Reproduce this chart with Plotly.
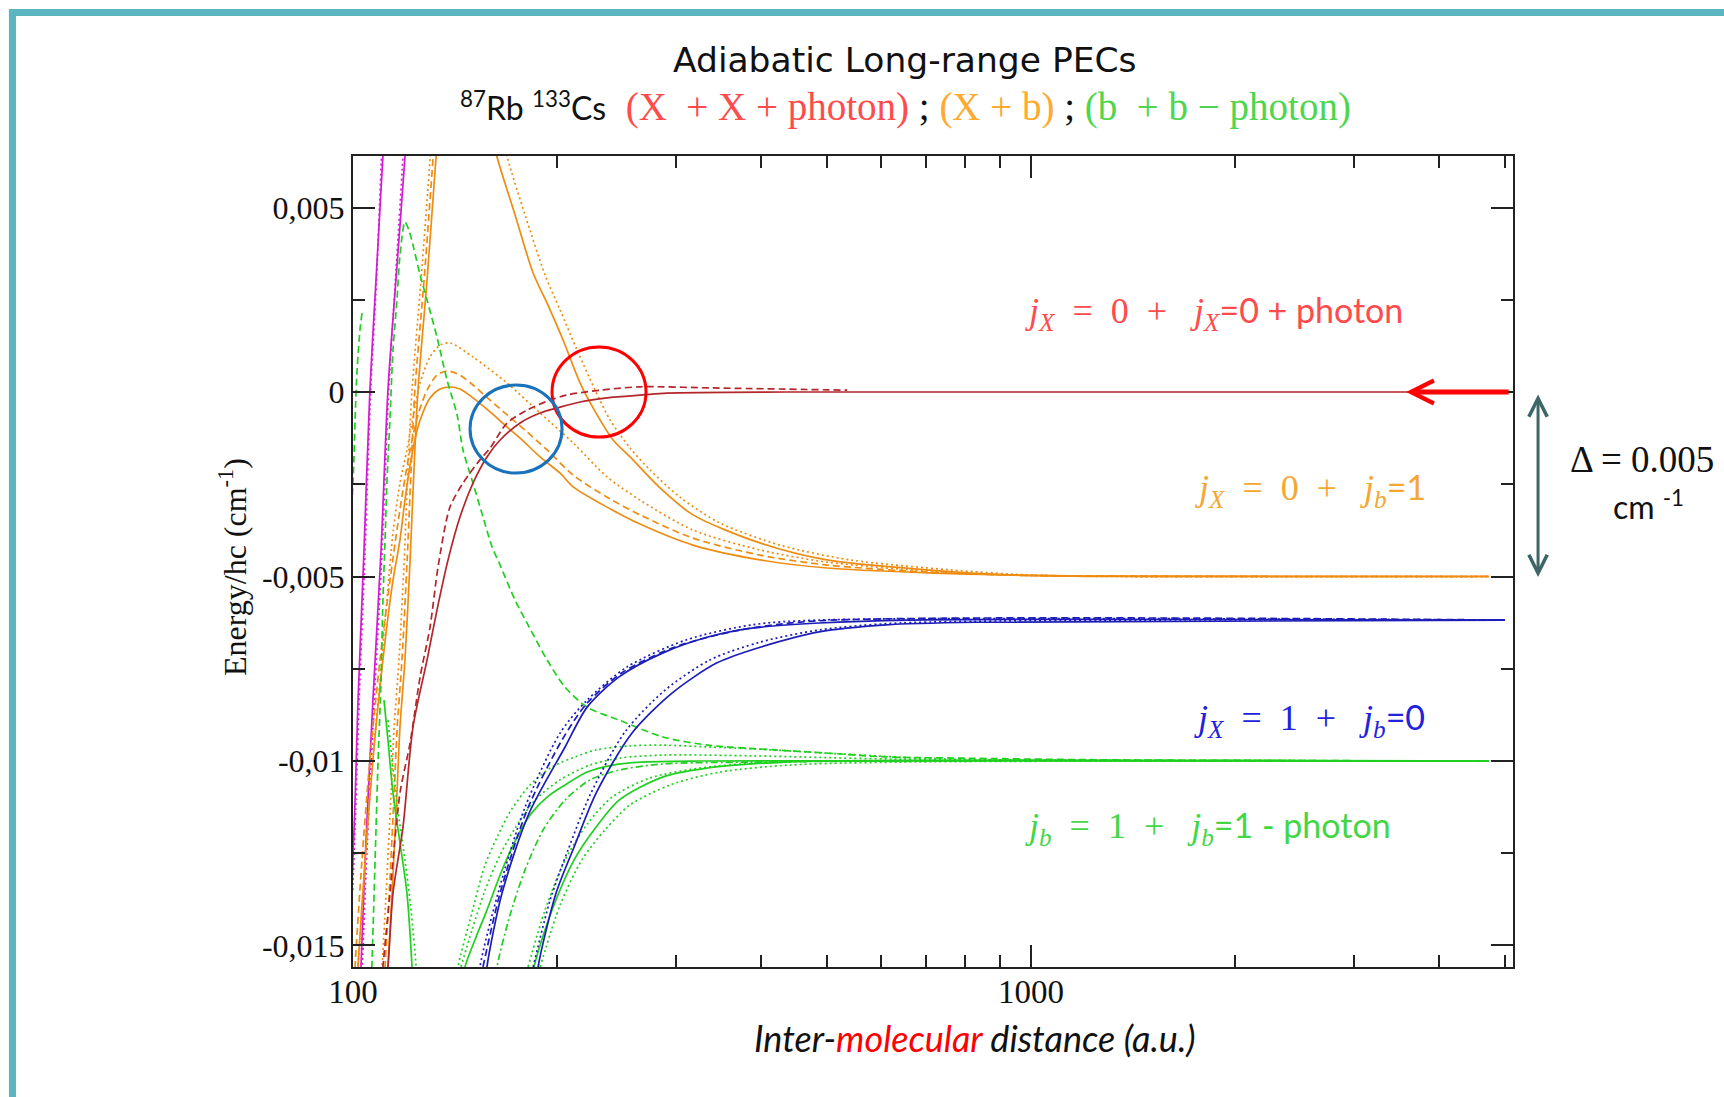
import plotly.graph_objects as go

# ---------------- data (x: a.u., y: cm^-1) ----------------
x_tick_vals = [100, 1000]
x_tick_text = ["100", "1000"]
x_minor_vals = [200, 300, 400, 500, 600, 700, 800, 900, 2000, 3000, 4000, 5000]
y_tick_vals = [0.005, 0.0, -0.005, -0.01, -0.015]
y_tick_text = ["0,005", "0", "-0,005", "-0,01", "-0,015"]
y_minor_vals = [0.0025, -0.0025, -0.0075, -0.0125]

# magenta
mag1_x = [99.6, 100.7, 101.7, 103.8, 105.9, 108.1, 110.7, 111.5]
mag1_y = [-0.0135, -0.0111, -0.0084, -0.0043, 0.00005, 0.0030, 0.0064, 0.0074]
mag1d_x = [99.9, 101.0, 102.1, 104.2, 106.2, 108.3, 110.2, 111.0]
mag1d_y = [-0.0135, -0.0111, -0.0084, -0.0043, 0.00005, 0.0030, 0.0064, 0.0074]
mag2_x = [102.4, 102.75, 104.2, 107.0, 110.0, 112.6, 115.7, 119.3, 120.1]
mag2_y = [-0.0162, -0.01558, -0.01268, -0.00835, -0.00428, 0.00005, 0.00304, 0.00637, 0.0074]
mag2d_x = [102.8, 103.2, 104.7, 107.5, 110.4, 112.9, 115.5, 118.5, 119.3]
mag2d_y = [-0.0162, -0.01558, -0.01268, -0.00835, -0.00428, 0.00005, 0.00304, 0.00637, 0.0074]

# orange (X + b)
ostp_x = [112.2, 112.6, 114.2, 116.1, 117.3, 119.3, 121.4, 123.0, 124.7, 128.6, 132.6, 133.9]
ostp_y = [-0.0162, -0.01558, -0.01358, -0.01087, -0.00908, -0.00726, -0.00455, -0.00211, 0.00005, 0.00304, 0.00637, 0.0074]
ostpa_x = [111.1, 111.5, 113.1, 115.0, 116.2, 118.1, 120.2, 121.8, 123.4, 127.3, 131.3, 132.6]
ostpa_y = [-0.0162, -0.01558, -0.01358, -0.01087, -0.00908, -0.00726, -0.00455, -0.00211, 0.00005, 0.00304, 0.00637, 0.0074]
ostpd_x = [110.0, 110.4, 111.9, 113.8, 115.0, 116.9, 119.0, 120.5, 122.2, 126.0, 130.0, 131.2]
ostpd_y = [-0.0162, -0.01558, -0.01358, -0.01087, -0.00908, -0.00726, -0.00455, -0.00211, 0.00005, 0.00304, 0.00637, 0.0074]

ohs_x = [101.4, 101.7, 104.2, 107.0, 110.7, 114.55, 117.3, 119.3, 121.4, 123.4, 125.6, 129.9, 134.4, 139.0, 143.8,
         150.3, 159.3, 168.8, 176.4, 188.8, 202.1, 211.2, 237.0, 265.1, 317.3, 398.3, 500.3, 702.6, 931.0, 1264, 4737]
ohs_y = [-0.0162, -0.01558, -0.01268, -0.00997, -0.00726, -0.0051, -0.00401, -0.00293, -0.00198, -0.0013, -0.00076,
         -0.00016, 0.00008, 0.000136, 0.00008, -0.00016, -0.00054, -0.00095, -0.00125, -0.00176, -0.0022, -0.00257,
         -0.00312, -0.00358, -0.00415, -0.00455, -0.00477, -0.0049, -0.00496, -0.00499, -0.005]
ohd_x = [100.4, 100.7, 103.1, 105.9, 109.6, 113.4, 116.1, 118.5, 121.4, 124.7, 128.6, 133.0, 137.6, 143.8, 150.3,
         159.3, 168.8, 180.6, 193.3, 211.2, 237.0, 265.1, 317.3, 398.3, 500.3, 702.6, 931.0, 1264, 4737]
ohd_y = [-0.0162, -0.01558, -0.01268, -0.00997, -0.00726, -0.0051, -0.00374, -0.00266, -0.00157, -0.00062, 0.00005,
         0.00046, 0.00057, 0.00046, 0.00019, -0.00022, -0.00062, -0.00108, -0.00157, -0.00225, -0.00285, -0.00333,
         -0.00396, -0.00442, -0.00469, -0.00488, -0.00496, -0.00499, -0.005]
ohp_x = [101.4, 101.7, 102.75, 105.9, 109.6, 112.2, 114.55, 117.3, 120.1, 122.6, 125.6, 129.9, 134.4, 139.0, 150.3,
         168.8, 188.8, 211.2, 237.0, 265.1, 317.3, 398.3, 500.3, 702.6, 931.0, 1264, 4737]
ohp_y = [-0.0162, -0.01558, -0.0145, -0.01087, -0.0078, -0.00564, -0.00382, -0.00247, -0.00157, -0.00068, 0.00024,
         0.00095, 0.00127, 0.00133, 0.00095, 0.00024, -0.00057, -0.00138, -0.0023, -0.00293, -0.00374, -0.00428,
         -0.00461, -0.00485, -0.00496, -0.00499, -0.005]
ous_x = [159.3, 163.1, 173.4, 184.4, 193.3, 204.1, 216.3, 226.0, 241.9, 256.3, 283.7, 317.3, 398.3, 500.3, 702.6,
         931.0, 1264, 4737]
ous_y = [0.00724, 0.00637, 0.0048, 0.00322, 0.00241, 0.00141, 0.00024, -0.00043, -0.0013, -0.00176, -0.0026,
         -0.00333, -0.00409, -0.00455, -0.00482, -0.00496, -0.005, -0.005]
oud_x = [164.8, 168.8, 179.4, 192.0, 202.1, 214.0, 227.6, 239.5, 256.3, 274.2, 303.6, 347.8, 426.4, 541.0, 759.6,
         996.6, 1353, 4737]
oud_y = [0.00724, 0.00637, 0.0048, 0.00317, 0.00222, 0.00114, 0.00005, -0.00076, -0.00152, -0.00211, -0.00285,
         -0.00355, -0.00415, -0.00455, -0.00482, -0.00496, -0.005, -0.005]

# red (X + X + photon)
rs_x = [111.5, 112.6, 114.55, 118.5, 122.6, 128.6, 133.0, 138.1, 143.8, 150.3, 157.6, 164.8, 176.4, 188.8, 202.1,
        216.3, 237.0, 267.7, 290.5, 436.6, 5089]
rs_y = [-0.0162, -0.01558, -0.01358, -0.01179, -0.00908, -0.00726, -0.00591, -0.00455, -0.00339, -0.00247, -0.00176,
        -0.0013, -0.00084, -0.00057, -0.00041, -0.00027, -0.00016, -0.00008, -0.00003, 0.0, 0.0]
rd_x = [110.0, 110.7, 113.4, 117.3, 121.4, 125.6, 129.9, 133.5, 139.0, 145.3, 153.9, 159.3, 168.8, 180.6, 195.3,
        206.9, 231.5, 265.1, 339.6, 535.5]
rd_y = [-0.0162, -0.01558, -0.01358, -0.01087, -0.00951, -0.00772, -0.00637, -0.00474, -0.00312, -0.00247, -0.00184,
        -0.00152, -0.00084, -0.00049, -0.00022, -0.00008, 0.00005, 0.00014, 0.00011, 0.00005]

# green (b + b - photon)
gdm_x = [106.3, 106.7, 107.8, 108.9, 110.0, 110.7, 111.5, 112.2, 113.4, 114.55, 116.1, 117.3, 119.3, 120.9, 122.6,
         125.6, 128.6, 133.0, 137.6, 142.4, 145.3, 150.3, 155.5, 160.4, 164.8, 173.4, 181.9, 193.3, 205.5, 221.5,
         246.9, 286.6, 333.9, 419.2, 495.2, 611.2, 767.4, 1308, 4737]
gdm_y = [-0.0162, -0.01539, -0.01268, -0.00997, -0.0078, -0.00564, -0.00401, -0.00247, -0.00068, 0.00114, 0.00249,
         0.00371, 0.00461, 0.00439, 0.00398, 0.00317, 0.00249, 0.00149, 0.00033, -0.00062, -0.00157, -0.00247,
         -0.00339, -0.0042, -0.00469, -0.00564, -0.00637, -0.00726, -0.008, -0.00854, -0.00889, -0.00935, -0.00957,
         -0.0097, -0.00978, -0.00989, -0.00992, -0.00997, -0.01]
gdl_x = [103.1, 102.4, 101.4, 100.7, 100.3, 99.7]
gdl_y = [0.00214, 0.00168, 0.0006, -0.00076, -0.00184, -0.00293]
gss_x = [111.1, 112.6, 114.55, 117.3, 120.1, 122.2, 122.6]
gss_y = [-0.00835, -0.00943, -0.01087, -0.01222, -0.01358, -0.01558, -0.0162]
gsd_x = [112.6, 114.2, 116.5, 119.3, 121.8, 123.9, 124.3]
gsd_y = [-0.00889, -0.00997, -0.01133, -0.01268, -0.01404, -0.01558, -0.0162]
gla_x = [145.3, 146.3, 151.3, 157.6, 164.8, 172.3, 182.5, 193.3, 205.5, 221.5, 241.9, 266.1, 325.0, 641.0, 4737]
gla_y = [-0.0162, -0.01558, -0.01485, -0.01404, -0.01309, -0.01228, -0.01146, -0.01098, -0.01065, -0.0103, -0.01011,
         -0.01003, -0.01, -0.01, -0.01]
gl1_x = [141.9, 142.85, 148.8, 156.6, 163.65, 171.1, 182.5, 196.6, 212.6, 228.35, 256.3, 286.6, 333.9, 387.7, 526.4,
         759.6, 4737]
gl1_y = [-0.0162, -0.01558, -0.01431, -0.01282, -0.01201, -0.01133, -0.01065, -0.01016, -0.00989, -0.0097, -0.00959,
         -0.00957, -0.00962, -0.00967, -0.00981, -0.00995, -0.01]
gl2_x = [144.3, 149.8, 156.6, 164.8, 173.4, 185.6, 202.1, 223.7, 247.7, 286.6, 387.7, 641.0, 4737]
gl2_y = [-0.01558, -0.01458, -0.0135, -0.01255, -0.01182, -0.01106, -0.01051, -0.01011, -0.00992, -0.00984, -0.00986,
         -0.00995, -0.01]
gdd_x = [162.0, 163.1, 170.5, 179.4, 190.7, 205.5, 223.7, 247.7, 286.6, 387.7, 641.0, 4737]
gdd_y = [-0.0162, -0.01558, -0.01417, -0.01295, -0.01187, -0.01106, -0.01051, -0.01024, -0.01008, -0.01003, -0.01,
         -0.01]
grs_x = [183.7, 185.0, 196.6, 211.9, 228.35, 246.9, 286.6, 333.9, 387.7, 486.9, 4737]
grs_y = [-0.0162, -0.01558, -0.01404, -0.01268, -0.01179, -0.01106, -0.01043, -0.01019, -0.01008, -0.01, -0.01]
gr1_x = [181.2, 192.0, 205.5, 222.2, 241.1, 274.2, 325.0, 398.3, 541.0, 4737]
gr1_y = [-0.01558, -0.01404, -0.01268, -0.01168, -0.01098, -0.01046, -0.01019, -0.01005, -0.01, -0.01]
gr2_x = [188.8, 202.1, 217.6, 235.3, 256.3, 293.5, 347.8, 441.1, 641.0, 4737]
gr2_y = [-0.01558, -0.0139, -0.01268, -0.01187, -0.01119, -0.01065, -0.0103, -0.01011, -0.01003, -0.01]

# blue
bls_x = [156.6, 157.6, 165.9, 181.9, 205.5, 221.5, 246.9, 286.6, 333.9, 387.7, 486.9, 660.9, 5003]
bls_y = [-0.0162, -0.01558, -0.01358, -0.01141, -0.00962, -0.00854, -0.00772, -0.00707, -0.00664, -0.0064, -0.00626,
         -0.00618, -0.00618]
bld_x = [152.9, 153.9, 163.65, 179.4, 202.1, 221.5, 253.7, 309.9, 387.7, 486.9, 5003]
bld_y = [-0.0162, -0.01558, -0.01358, -0.01125, -0.00924, -0.00835, -0.00745, -0.00672, -0.00631, -0.00618, -0.00618]
bla_x = [155.5, 164.8, 180.6, 203.4, 221.5, 250.2, 298.5, 372.3, 486.9, 5003]
bla_y = [-0.01558, -0.01358, -0.01133, -0.00943, -0.00843, -0.00759, -0.00691, -0.00645, -0.0062, -0.00618]
brs_x = [186.2, 187.5, 199.3, 211.9, 228.35, 258.0, 295.5, 344.3, 399.7, 486.9, 611.2, 829.6, 5003]
brs_y = [-0.0162, -0.01558, -0.01358, -0.01233, -0.01087, -0.00924, -0.00816, -0.00734, -0.00691, -0.0065, -0.00631,
         -0.00624, -0.00618]
brd_x = [184.4, 195.3, 207.6, 223.7, 251.9, 288.6, 336.2, 398.3, 486.9, 641.0, 5003]
brd_y = [-0.01558, -0.01377, -0.01241, -0.01092, -0.00921, -0.00808, -0.00726, -0.00678, -0.00645, -0.00626, -0.00618]

# ---------------- styling ----------------
MAG = "#d41bd4"
ORA = "#ee8c12"
RED = "#b3262b"
GRN = "#1fd01f"
BLU = "#1c1cb8"
SOLID, DOT, DASH, DASHDOT = "solid", "2px,3px", "7px,4px", "7px,3px,2px,3px"

curves = [
    (mag1_x, mag1_y, MAG, SOLID), (mag1d_x, mag1d_y, MAG, DOT),
    (mag2_x, mag2_y, MAG, SOLID), (mag2d_x, mag2d_y, MAG, DOT),
    (gdl_x, gdl_y, GRN, DASH),
    (ostp_x, ostp_y, ORA, SOLID), (ostpa_x, ostpa_y, ORA, DASH), (ostpd_x, ostpd_y, ORA, DOT),
    (ohs_x, ohs_y, ORA, SOLID), (ohd_x, ohd_y, ORA, DASH), (ohp_x, ohp_y, ORA, DOT),
    (ous_x, ous_y, ORA, SOLID), (oud_x, oud_y, ORA, DOT),
    (gss_x, gss_y, GRN, SOLID), (gsd_x, gsd_y, GRN, DOT),
    (gdm_x, gdm_y, GRN, DASH),
    (gla_x, gla_y, GRN, SOLID), (gl1_x, gl1_y, GRN, DOT), (gl2_x, gl2_y, GRN, DOT), (gdd_x, gdd_y, GRN, DASHDOT),
    (grs_x, grs_y, GRN, SOLID), (gr1_x, gr1_y, GRN, DOT), (gr2_x, gr2_y, GRN, DOT),
    (bls_x, bls_y, BLU, SOLID), (bld_x, bld_y, BLU, DOT), (bla_x, bla_y, BLU, DASH),
    (brs_x, brs_y, BLU, SOLID), (brd_x, brd_y, BLU, DOT),
    (rs_x, rs_y, RED, SOLID), (rd_x, rd_y, RED, DASH),
]

fig = go.Figure()
for cx, cy, col, dsh in curves:
    fig.add_trace(go.Scatter(x=cx, y=cy, mode="lines", line_shape="spline",
                             line=dict(color=col, width=1.7, dash=dsh, smoothing=0.8),
                             hoverinfo="skip", showlegend=False))

AX = "#222222"
fig.update_xaxes(type="log", range=[2.0, 3.711], showline=True, linecolor=AX, linewidth=2,
                 mirror="allticks", ticks="inside", ticklen=22, tickwidth=2, tickcolor=AX,
                 tickvals=x_tick_vals, ticktext=x_tick_text, showgrid=False, zeroline=False,
                 ticklabelstandoff=-6,
                 tickfont=dict(family="Liberation Serif", size=33, color="#111"),
                 minor=dict(tickvals=x_minor_vals, ticks="inside", ticklen=12, tickwidth=2, tickcolor=AX,
                            showgrid=False))
fig.update_yaxes(range=[-0.015583, 0.006396], showline=True, linecolor=AX, linewidth=2,
                 mirror="allticks", ticks="inside", ticklen=22, tickwidth=2, tickcolor=AX,
                 tickvals=y_tick_vals, ticktext=y_tick_text, showgrid=False, zeroline=False,
                 tickfont=dict(family="Liberation Serif", size=32, color="#111"),
                 minor=dict(tickvals=y_minor_vals, ticks="inside", ticklen=12, tickwidth=2, tickcolor=AX,
                            showgrid=False))

SERIF = "Liberation Serif"
SANS = "Lato"
EN = "\u2002"


def note(x, y, text, family, size, color, xanchor="center", **kw):
    d = dict(x=x, y=y, xref="paper", yref="paper", showarrow=False, text=text, xanchor=xanchor,
             yanchor="middle", font=dict(family=family, size=size, color=color))
    d.update(kw)
    return d


ann = []
ann.append(note(0.4759, 1.1184, "Adiabatic Long-range PECs", "DejaVu Sans", 34.5, "#111"))
ann.append(note(0.4759, 1.0604,
                ("<span style='font-family:Lato;font-size:32px'><sup>87</sup>Rb <sup>133</sup>Cs</span>  "
                 "<span style='color:#ff4b4b'>(X  + X + photon)</span> ; "
                 "<span style='color:#ffa92e'>(X + b)</span> ; "
                 "<span style='color:#4fd64f'>(b  + b − photon)</span>"),
                SERIF, 39, "#111"))
ann.append(note(-0.1034, 0.4932, "Energy/hc (cm<sup>-1</sup>)", SERIF, 32, "#111", textangle=-90))
ann.append(note(0.5362, -0.0875,
                "<i>Inter-<span style='color:#ff0000'>molecular</span> distance (a.u.)</i>",
                SANS, 36, "#111"))


def jlab(sub1, mid, sub2, tail):
    return ("<span style='font-family:Liberation Serif;font-size:36px'><i>j</i><sub><i>%s</i></sub>"
            "%s=%s%s%s+%s <i>j</i><sub><i>%s</i></sub></span>%s"
            % (sub1, EN, EN, mid, EN, EN, sub2, tail))


ann.append(note(0.5776, 0.8076, jlab("X", "0", "X", "=0 + photon"), SANS, 34, "#ff4b4b", xanchor="left"))
ann.append(note(0.7241, 0.5882, jlab("X", "0", "b", "=1"), SANS, 34, "#f5a733", xanchor="left"))
ann.append(note(0.7233, 0.3046, jlab("X", "1", "b", "=0"), SANS, 34, "#2222dd", xanchor="left"))
ann.append(note(0.5776, 0.1726, jlab("b", "1", "b", "=1 - photon"), SANS, 34, "#45d645", xanchor="left"))
ann.append(note(1.0474, 0.6252, "Δ = 0.005", SERIF, 37, "#111", xanchor="left"))
ann.append(note(1.1164, 0.5697, "cm <sup>-1</sup>", SANS, 32, "#111"))
# double arrow
ann.append(dict(x=1.0216, y=0.4809, xref="paper", yref="paper", ax=0, ay=-184, text="",
                showarrow=True, arrowside="end+start", arrowhead=5, startarrowhead=5,
                arrowsize=1.2, startarrowsize=1.2, arrowwidth=3, arrowcolor="#3e6666"))
# red arrow pointing to asymptote
ann.append(dict(x=0.9078, y=0.0, xref="paper", yref="y", ax=104, ay=0, text="",
                showarrow=True, arrowhead=5, arrowsize=0.9, arrowwidth=5, arrowcolor="#ff0000"))

shapes = [
    dict(type="circle", xref="paper", yref="paper", x0=0.1716, x1=0.2526, y0=0.6535, y1=0.7645,
         line=dict(color="#ff0000", width=3)),
    dict(type="circle", xref="paper", yref="paper", x0=0.1009, x1=0.1802, y0=0.6091, y1=0.7176,
         line=dict(color="#1a72bb", width=3)),
    dict(type="rect", xref="paper", yref="paper", x0=-0.2966, x1=1.2, y0=1.1726, y1=1.1813,
         fillcolor="#5bb5c0", line=dict(width=0)),
    dict(type="rect", xref="paper", yref="paper", x0=-0.2966, x1=-0.2905, y0=-0.2, y1=1.1813,
         fillcolor="#5bb5c0", line=dict(width=0)),
]

fig.update_layout(width=1724, height=1097, margin=dict(l=353, r=211, t=156, b=130),
                  paper_bgcolor="white", plot_bgcolor="white", annotations=ann, shapes=shapes,
                  showlegend=False)
fig.write_html("out.html")
